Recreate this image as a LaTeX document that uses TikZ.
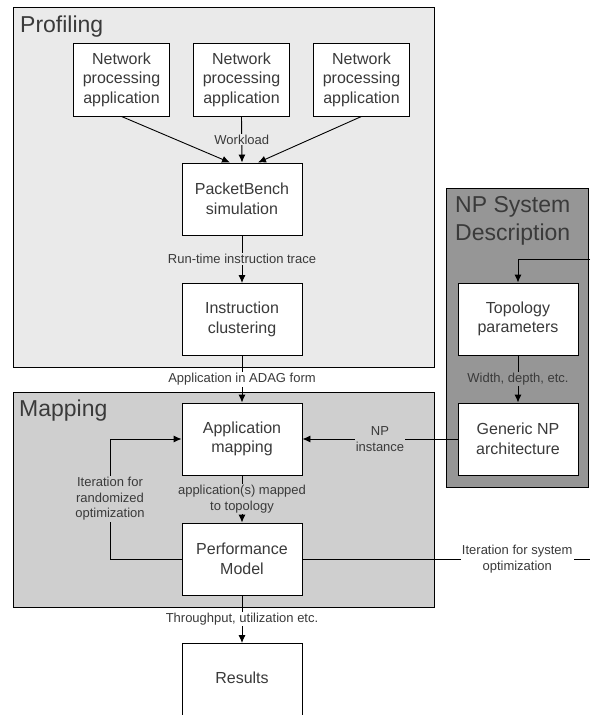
\documentclass[tikz,border=0pt]{standalone}
\usepackage{fontspec}
\setmainfont{Liberation Sans}
\usetikzlibrary{arrows.meta}
\definecolor{profbg}{HTML}{EAEAEA}
\definecolor{mapbg}{HTML}{CFCFCF}
\definecolor{npbg}{HTML}{969696}
\definecolor{txt}{HTML}{3A3A3A}
\tikzset{
  boxnode/.style={draw=black, line width=0.9pt, fill=white, minimum width=120pt, minimum height=72pt,
    align=center, inner sep=0pt, text=txt, font=\fontsize{16}{19.5}\selectfont},
  appbox/.style={boxnode, minimum width=96pt, minimum height=73pt},
  lab/.style={fill=#1, inner sep=1.2pt, text=txt, align=center, font=\fontsize{13}{15.5}\selectfont},
  lab/.default=white,
  conn/.style={draw=black, line width=0.9pt},
  arr/.style={conn, -{Latex[length=8pt,width=7pt]}},
  container/.style={draw=black, line width=0.9pt},
  title/.style={text=txt, inner sep=0pt, align=left, font=\fontsize{23}{28}\selectfont}
}
\begin{document}
\begin{tikzpicture}[x=1pt, y=-1pt]
\clip (0,0) rectangle (590,715);
\fill[white] (0,0) rectangle (590,715);
% containers
\path[container, fill=profbg] (13,7) rectangle (434,367);
\path[container, fill=mapbg] (13,392) rectangle (434,607);
\path[container, fill=npbg] (446,188) rectangle (588,487);
\node[title, anchor=west] (tprof) at (20,27) {Profiling};
\node[title, anchor=west] (tmap) at (19,411) {Mapping};
\node[title, anchor=north west] (tnp) at (455,196.5) {NP System\\Description};
% boxes
\node[appbox] (n1) at (121.5,79.5) {Network\\processing\\application};
\node[appbox] (n2) at (241.5,79.5) {Network\\processing\\application};
\node[appbox] (n3) at (361.5,79.5) {Network\\processing\\application};
\node[boxnode] (pb) at (242,199) {PacketBench\\simulation};
\node[boxnode] (ic) at (242,319.5) {Instruction\\clustering};
\node[boxnode] (am) at (242,439) {Application\\mapping};
\node[boxnode] (pm) at (242,559) {Performance\\Model};
\node[boxnode] (tp) at (518,319) {Topology\\parameters};
\node[boxnode] (gn) at (518,439) {Generic NP\\architecture};
\node[boxnode, anchor=north, minimum height=0pt, text height=11.5pt, text depth=60pt, inner ysep=29pt] (res) at (242,643) {Results};
% coordinates
\coordinate (ein) at (590,259);
\coordinate (lp) at (110,559);
\coordinate (lq) at (110,439);
\coordinate (sysend) at (590,559);
% connectors
\draw[arr] (n1.south) -- ([xshift=-12pt]pb.north);
\draw[arr] (n2.south) -- node[lab=profbg] {Workload} (pb.north);
\draw[arr] (n3.south) -- ([xshift=16pt]pb.north);
\draw[arr] (pb.south) -- node[lab=profbg] {Run-time instruction trace} (ic.north);
\draw[arr] (ic.south) -- node[lab] {Application in ADAG form} (am.north);
\draw[arr] (am.south) -- node[lab=mapbg] {application(s) mapped\\to topology} (pm.north);
\draw[arr] (pm.south) -- node[lab] {Throughput, utilization etc.} (res.north);
\draw[arr] (tp.south) -- node[lab=npbg] {Width, depth, etc.} (gn.north);
\draw[arr] (gn.west) -- node[lab=mapbg] {NP\\instance} (am.east);
\draw[arr] (pm.west) -- (lp) -- node[lab=mapbg] {Iteration for\\randomized\\optimization} (lq) -- (am.west);
\draw[conn] (pm.east) -- node[lab, pos=0.747] {Iteration for system\\optimization} (sysend);
\draw[arr] (ein) -| (tp.north);
\end{tikzpicture}
\end{document}
